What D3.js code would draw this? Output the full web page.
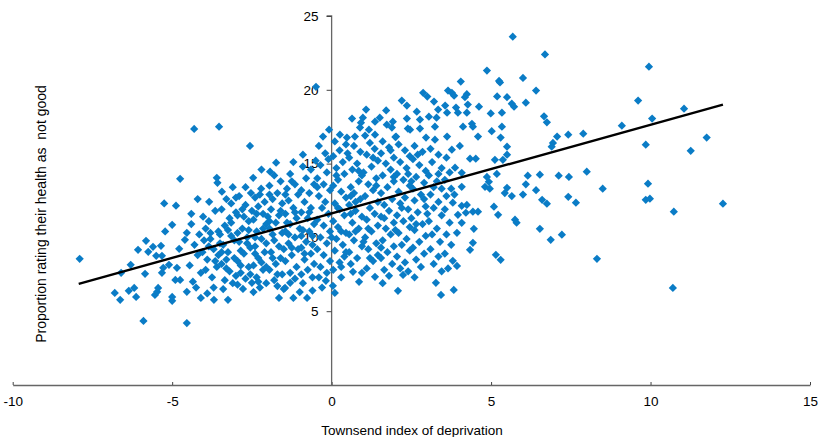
<!DOCTYPE html>
<html>
<head>
<meta charset="utf-8">
<script src="https://cdn.jsdelivr.net/npm/d3@7"></script>
<style>
  body { margin: 0; background: #fff; }
  svg { display: block; font-family: "Liberation Sans", Arial, sans-serif; }
</style>
</head>
<body>
<div id="chart"></div>
<script>
// axis ticks
var xTicks = [-10, -5, 0, 5, 10, 15];
var yTicks = [5, 10, 15, 20, 25];

// fitted line end points (x, y)
var lineX = [-7.93, 12.27];
var lineY = [6.85, 19.0];

// scatter points [townsend index, % not good]
var farLeft = [
  [-7.9,8.55],[-6.8,6.24],[-6.63,5.77],[-6.6,7.6],[-6.36,6.38],[-6.3,8.14],[-6.19,6.58],[-6.13,5.97],
  [-6.07,9.16],[-5.9,4.34],[-5.85,7.53],[-5.82,9.77],[-5.75,9.02],[-5.6,9.36],[-5.54,6.1],[-5.5,8.75],
  [-5.47,6.31],[-5.44,6.58],[-5.35,9.43],[-5.32,8.75],[-5.32,7.6],[-5.28,7.94],[-5.25,12.3],[-5.22,10.4],
  [-5.1,8.14],[-5.0,10.85],[-5.0,5.97],[-5.0,5.7],[-4.9,7.12],[-4.88,12.15],[-4.85,7.94],[-4.78,9.23],
  [-4.75,7.12],[-4.75,13.97],[-4.6,9.84],[-4.54,10.31],[-4.54,6.31],[-4.54,4.2],[-4.31,17.35],[-3.53,17.5]
];

var leftCloud = [
  [-4.4,10.9],[-4.3,9.5],[-4.2,8.8],[-4.45,8.1],[-4.1,7.6],[-4.35,7.0],[-4.15,10.2],[-4.05,9.0],
  [-4.25,6.6],[-4.4,11.6],[-4.2,12.6],[-4.1,5.9],[-4.03,11.4],
  [-3.84,12.41],[-3.6,14.04],[-3.58,13.7],[-3.69,5.77],[-3.95,10.6],[-3.8,9.9],[-3.7,9.2],[-3.9,8.5],
  [-3.6,8.0],[-3.75,7.3],[-3.55,10.4],[-3.85,11.1],[-3.65,11.8],[-3.95,7.8],[-3.5,9.6],[-3.7,6.6],
  [-3.9,6.2],[-3.55,8.8],[-3.8,10.3],
  [-3.44,13.1],[-3.25,5.77],[-3.3,12.6],[-3.2,11.3],[-3.45,11.9],[-3.1,13.4],[-3.35,10.8],[-3.15,10.1],
  [-3.4,9.5],[-3.25,9.0],[-3.05,8.6],[-3.45,8.2],[-3.2,7.7],[-3.35,7.1],[-3.1,6.9],[-3.4,6.5],
  [-3.0,11.7],[-3.15,12.3],[-3.3,8.5],[-3.05,9.8],[-3.5,10.2],[-3.0,7.4],
  [-2.78,6.51],[-2.5,6.92],[-2.56,16.2],[-2.46,14.04],[-2.53,13.0],[-2.9,12.8],[-2.7,12.2],[-2.95,11.5],
  [-2.6,11.1],[-2.8,10.6],[-2.65,10.0],[-2.9,9.7],[-2.55,9.3],[-2.75,8.9],[-2.95,8.4],[-2.6,8.0],
  [-2.85,7.6],[-2.7,7.2],[-2.5,11.8],[-2.75,11.4],[-2.6,10.5],[-2.85,9.1],[-2.55,7.5],[-2.95,6.8],[-2.7,13.4],
  [-2.21,13.3],[-2.4,12.7],[-2.3,12.1],[-2.15,11.6],[-2.45,11.2],[-2.05,10.9],[-2.35,10.4],[-2.2,9.9],
  [-2.4,9.4],[-2.1,9.0],[-2.3,8.6],[-2.45,8.1],[-2.15,7.8],[-2.35,7.3],[-2.05,6.9],[-2.25,6.6],
  [-2.3,7.0],[-2.0,11.4],[-2.1,12.4],[-2.4,10.0],[-2.2,8.3],[-2.05,9.6],[-2.45,6.3],[-2.2,14.6],
  [-1.74,15.06],[-1.93,14.45],[-1.65,5.9],[-1.8,14.2],[-1.6,13.8],[-1.95,13.5],[-1.7,13.0],[-1.85,12.6],
  [-1.55,12.3],[-1.9,11.9],[-1.65,11.5],[-1.75,11.0],[-1.95,10.6],[-1.55,10.3],[-1.8,9.8],[-1.65,9.4],
  [-1.9,9.0],[-1.6,8.6],[-1.75,8.2],[-1.95,7.8],[-1.55,7.5],[-1.8,7.1],[-1.7,6.7],[-1.5,6.5],
  [-1.85,10.2],[-1.6,11.8],[-1.95,12.9],
  [-1.46,6.58],[-1.3,6.92],[-1.3,14.3],[-1.4,13.3],[-1.15,13.6],[-1.05,12.9],[-1.35,12.5],[-1.2,12.0],
  [-1.45,11.6],[-1.1,11.3],[-1.3,10.9],[-1.45,10.4],[-1.15,10.0],[-1.35,9.6],[-1.05,9.2],[-1.25,8.8],
  [-1.45,8.4],[-1.1,8.0],[-1.3,7.6],[-1.15,7.2],[-1.0,6.3],[-1.2,5.9],[-1.4,11.0],[-1.0,10.6],[-1.25,13.8],
  [-1.2,15.1],
  [-0.77,5.9],[-0.9,6.9],[-0.6,6.4],[-0.95,13.2],[-0.7,13.0],[-0.55,13.6],[-0.85,12.4],[-0.65,12.0],
  [-0.95,11.7],[-0.75,11.3],[-0.55,10.9],[-0.9,10.5],[-0.6,10.1],[-0.8,9.7],[-0.95,9.3],[-0.65,8.9],
  [-0.85,8.5],[-0.55,8.2],[-0.75,7.8],[-0.95,7.5],[-0.6,7.3],[-0.8,14.0],[-0.65,14.6],[-0.5,15.2],
  [-0.9,14.8],[-0.7,10.4],[-0.9,15.6],
  [-0.49,20.2],[-0.08,17.3],[-0.27,16.83],[-0.18,7.06],[-0.4,16.2],[-0.2,15.7],[-0.1,15.3],[-0.35,14.9],
  [-0.15,14.4],[-0.45,14.0],[-0.25,13.6],[-0.05,13.2],[-0.4,12.8],[-0.2,12.4],[-0.3,12.0],[-0.1,11.6],
  [-0.45,11.2],[-0.25,10.8],[-0.05,10.4],[-0.35,10.0],[-0.15,9.6],[-0.45,9.2],[-0.25,8.8],[-0.05,8.4],
  [-0.35,8.0],[-0.15,7.6],[-0.4,7.3],[-0.3,6.6]
];

var rightCloud = [
  [0.04,6.72],[0.1,6.24],[0.3,7.3],[0.05,7.8],[0.25,8.3],[0.4,8.7],[0.1,9.1],[0.35,9.5],[0.15,9.9],
  [0.45,10.3],[0.2,10.7],[0.05,11.1],[0.4,11.5],[0.25,11.9],[0.1,12.3],[0.45,12.7],[0.3,13.1],[0.05,13.5],
  [0.2,13.9],[0.4,14.3],[0.15,14.7],[0.35,15.1],[0.05,15.5],[0.25,15.9],[0.45,16.3],[0.1,16.5],[0.3,8.0],
  [0.45,9.0],[0.0,10.0],[0.26,16.96],[0.48,16.76],[0.2,12.0],
  [0.64,18.05],[0.92,17.77],[0.89,17.44],[0.73,16.83],[0.67,7.67],[0.95,7.6],[0.86,6.99],[0.6,8.2],
  [0.8,8.6],[0.55,9.0],[0.95,9.4],[0.7,9.8],[0.55,10.2],[0.85,10.6],[0.65,11.0],[0.95,11.4],[0.75,11.8],
  [0.55,12.2],[0.9,12.6],[0.7,13.0],[0.6,13.4],[0.85,13.8],[0.95,14.2],[0.65,14.6],[0.8,15.0],[0.55,15.4],
  [0.9,15.8],[0.7,16.2],[0.75,12.4],[0.6,11.6],
  [1.08,18.66],[0.98,18.11],[1.36,17.84],[1.17,17.3],[1.05,16.9],[1.36,16.96],[1.36,7.33],[1.1,7.9],
  [1.3,8.4],[1.45,8.8],[1.15,9.2],[1.4,9.6],[1.05,10.0],[1.25,10.4],[1.45,10.8],[1.1,11.2],[1.35,11.6],
  [1.2,12.0],[1.45,12.4],[1.05,12.8],[1.3,13.2],[1.15,13.6],[1.4,14.0],[1.0,14.4],[1.25,14.8],[1.45,15.2],
  [1.1,15.6],[1.35,16.0],[1.2,16.4],[1.2,8.6],
  [1.51,18.11],[1.71,18.6],[1.73,17.64],[1.89,17.44],[1.92,17.84],[1.6,16.5],[1.8,16.1],[1.55,15.7],
  [1.95,15.4],[1.7,15.0],[1.85,14.6],[1.6,14.2],[1.95,13.8],[1.75,13.4],[1.55,13.0],[1.9,12.6],[1.65,12.2],
  [1.8,11.8],[1.55,11.4],[1.95,11.0],[1.7,10.6],[1.85,10.2],[1.6,9.8],[1.95,9.4],[1.75,9.0],[1.55,8.6],
  [1.9,8.2],[1.65,7.8],[1.8,7.4],[1.6,6.9],[2.0,16.8],
  [2.02,16.83],[2.2,19.27],[2.36,18.93],[2.36,18.05],[2.39,17.37],[2.46,17.3],[2.24,7.46],[2.08,6.38],
  [2.1,16.3],[2.3,15.9],[2.45,15.5],[2.15,15.1],[2.35,14.7],[2.05,14.3],[2.25,13.9],[2.45,13.5],[2.1,13.1],
  [2.3,12.7],[2.15,12.3],[2.4,11.9],[2.05,11.5],[2.25,11.1],[2.45,10.7],[2.1,10.3],[2.35,9.9],[2.2,9.5],
  [2.45,9.1],[2.05,8.7],[2.3,8.3],[2.15,7.9],[2.4,7.7],
  [2.67,18.52],[2.77,17.98],[2.77,17.37],[2.96,16.76],[2.87,19.8],[3.0,19.54],[2.6,16.2],[2.85,15.8],
  [2.55,15.3],[2.75,14.9],[2.95,14.5],[2.65,14.1],[2.9,13.7],[2.55,13.3],[2.8,12.9],[2.6,12.5],[2.95,12.1],
  [2.7,11.7],[2.5,11.3],[2.85,10.9],[2.6,10.5],[2.95,10.1],[2.75,9.7],[2.55,9.3],[2.9,8.9],[2.65,8.5],
  [2.8,8.0],[2.6,7.3],
  [3.21,19.2],[3.34,18.66],[3.05,18.18],[3.29,18.11],[3.24,17.5],[3.24,16.62],[3.27,6.92],[3.43,6.1],
  [3.1,16.0],[3.35,15.6],[3.15,15.1],[3.45,14.7],[3.05,14.2],[3.3,13.8],[3.45,13.3],[3.1,12.9],[3.35,12.4],
  [3.2,12.0],[3.45,11.5],[3.05,11.1],[3.3,10.6],[3.15,10.2],[3.4,9.7],[3.1,9.2],[3.35,8.7],[3.2,8.2],[3.45,7.7]
];

// extra points where the cloud is solid
var coreExtra = [
  [-3.85,9.4],[-3.45,9.0],[-3.25,10.5],[-2.95,10.3],[-2.65,9.6],[-2.35,11.6],[-2.15,10.6],[-1.85,8.6],
  [-1.5,9.2],[-1.35,10.2],[-1.15,11.7],[-0.95,10.1],[-0.7,11.7],[-0.6,9.5],[-3.65,8.4],[-3.3,7.9],
  [-2.85,8.1],[-2.4,8.9],[-2.05,8.0],[-1.7,7.5],[-1.25,9.3],[-0.85,8.9],[-4.0,9.8],[-3.0,12.7],
  [-2.25,12.9],[-1.45,12.9],[-0.45,13.4],[-3.15,11.0],[-2.8,11.9],[-1.95,11.1],
  [0.3,10.4],[0.6,12.8],[0.85,14.5],[1.15,10.6],[1.4,13.5],[1.65,11.3],[1.85,15.9],[2.2,12.0],
  [2.4,14.3],[2.65,10.9],[2.9,12.6],[3.2,13.4],[0.5,15.7],[1.0,9.7],[1.55,9.3],[2.0,10.5],
  [2.5,13.8],[3.0,11.6],[0.15,14.2],[0.75,10.4],[1.3,15.4],[1.95,14.1],[2.7,15.6],[3.35,14.3]
];

var rightTail = [
  [3.65,19.95],[3.56,18.93],[3.62,18.45],[3.62,16.83],[3.77,19.8],[3.84,19.6],[3.9,18.8],[3.96,18.45],
  [3.77,15.94],[3.87,14.72],[3.8,12.35],[3.96,11.53],[3.93,10.31],[3.8,8.41],[3.93,8.07],[3.83,6.44],
  [3.6,15.4],[3.7,14.4],[3.55,13.9],[3.75,13.3],[3.6,12.8],[3.85,12.9],[3.55,11.9],[3.7,11.0],[3.6,10.2],
  [3.75,9.5],[3.55,8.9],[3.65,7.9],
  [4.05,20.56],[4.24,19.7],[4.18,19.5],[4.27,19.0],[4.24,18.45],[4.12,17.5],[4.4,17.7],[4.43,17.5],
  [4.02,16.2],[4.34,15.33],[4.08,14.38],[4.08,13.43],[4.08,12.14],[4.24,12.2],[4.21,11.67],[4.43,11.74],
  [4.08,10.99],[4.46,10.58],[4.43,9.63],[4.34,9.16],
  [4.87,21.3],[4.62,18.86],[4.99,18.4],[4.59,16.83],[4.52,15.33],[4.87,14.1],[4.93,13.77],[4.81,13.43],
  [4.96,13.3],[4.59,11.74],
  [5.25,20.6],[5.28,20.5],[5.19,19.55],[5.5,19.5],[5.34,18.45],[5.02,17.2],[5.34,17.5],[5.3,16.76],
  [5.5,16.15],[5.5,15.6],[5.12,15.26],[5.37,15.26],[5.18,14.3],[5.5,13.36],[5.43,13.0],[5.09,12.08],
  [5.22,11.53],[5.15,8.82],[5.3,8.48]
];

var farRight = [
  [5.68,23.6],[6.69,22.4],[6.0,20.8],[6.41,19.95],[5.65,19.06],[5.72,18.86],[6.09,19.13],[6.66,18.2],
  [6.75,17.8],[7.07,16.83],[7.42,16.96],[7.89,17.03],[6.94,16.4],[6.9,16.15],[6.15,14.18],[6.53,14.25],
  [7.12,14.18],[7.44,14.1],[8.0,14.45],[5.65,12.8],[6.09,13.6],[6.0,12.9],[6.41,13.2],[6.6,12.55],
  [6.75,12.28],[7.42,12.75],[7.66,12.35],[5.75,11.2],[5.8,11.0],[6.53,10.58],[6.87,9.84],[7.22,10.18],
  [8.32,8.55],[9.95,21.57],[9.61,19.27],[11.05,18.72],[10.05,18.05],[9.1,17.57],[9.85,16.28],
  [11.76,16.76],[11.26,15.87],[8.5,13.3],[9.92,13.64],[9.85,12.55],[9.98,12.62],[10.73,11.74],
  [12.27,12.28],[10.7,6.58]
];

function init() {
    var w = 822;
    var h = 437;

    var points = farLeft.concat(leftCloud, rightCloud, coreExtra, rightTail, farRight);

    var xScale = d3.scaleLinear().domain([-10, 15]).range([12.7, 810]);
    var yScale = d3.scaleLinear().domain([0, 25]).range([385, 16]);

    var svg = d3.select("#chart")
        .append("svg")
        .attr("width", w)
        .attr("height", h);

    svg.append("rect").attr("width", w).attr("height", h).attr("fill", "#fff");

    // plain hyphen for negatives, as in the original
    var fmt = function(d) { return String(d); };

    // x axis, ticks pointing up
    var xAxis = svg.append("g")
        .attr("transform", "translate(0," + yScale(0) + ")")
        .call(d3.axisBottom(xScale).tickValues(xTicks).tickFormat(fmt)
            .tickSizeInner(-3).tickSizeOuter(0).tickPadding(11));

    // y axis through x = 0
    var yAxis = svg.append("g")
        .attr("transform", "translate(" + xScale(0) + ",0)")
        .call(d3.axisLeft(yScale).tickValues(yTicks).tickFormat(fmt)
            .tickSizeInner(5).tickSizeOuter(0).tickPadding(8));

    [xAxis, yAxis].forEach(function(g) {
        g.select(".domain").attr("stroke", "#666").attr("stroke-width", 1.3);
        g.selectAll(".tick line").attr("stroke", "#444");
        g.selectAll("text")
            .attr("font-family", "Liberation Sans, Arial, sans-serif")
            .attr("font-size", "13.5px")
            .attr("fill", "#000");
    });
    // the y axis line starts at y = 0
    yAxis.select(".domain").attr("d", "M0," + yScale(0) + "V" + yScale(25) + "H-5");

    // points (Excel style diamonds)
    var diamond = d3.symbol().type(d3.symbolSquare).size(34);
    svg.append("g")
        .selectAll("path")
        .data(points)
        .enter()
        .append("path")
        .attr("d", diamond)
        .attr("transform", function(d) {
            return "translate(" + xScale(d[0]) + "," + yScale(d[1]) + ") rotate(45)";
        })
        .attr("fill", "#0a7cc6");

    // fitted line
    svg.append("line")
        .attr("x1", xScale(lineX[0]))
        .attr("y1", yScale(lineY[0]))
        .attr("x2", xScale(lineX[1]))
        .attr("y2", yScale(lineY[1]))
        .attr("stroke", "#000")
        .attr("stroke-width", 2.4);

    // axis titles
    svg.append("text")
        .attr("x", 412)
        .attr("y", 435)
        .attr("text-anchor", "middle")
        .attr("font-size", "13.5px")
        .text("Townsend index of deprivation");

    svg.append("text")
        .attr("transform", "translate(46,214) rotate(-90)")
        .attr("text-anchor", "middle")
        .attr("font-size", "14px")
        .style("white-space", "pre")
        .text("Proportion rating their health as  not good");
}

window.onload = init;
</script>
</body>
</html>
